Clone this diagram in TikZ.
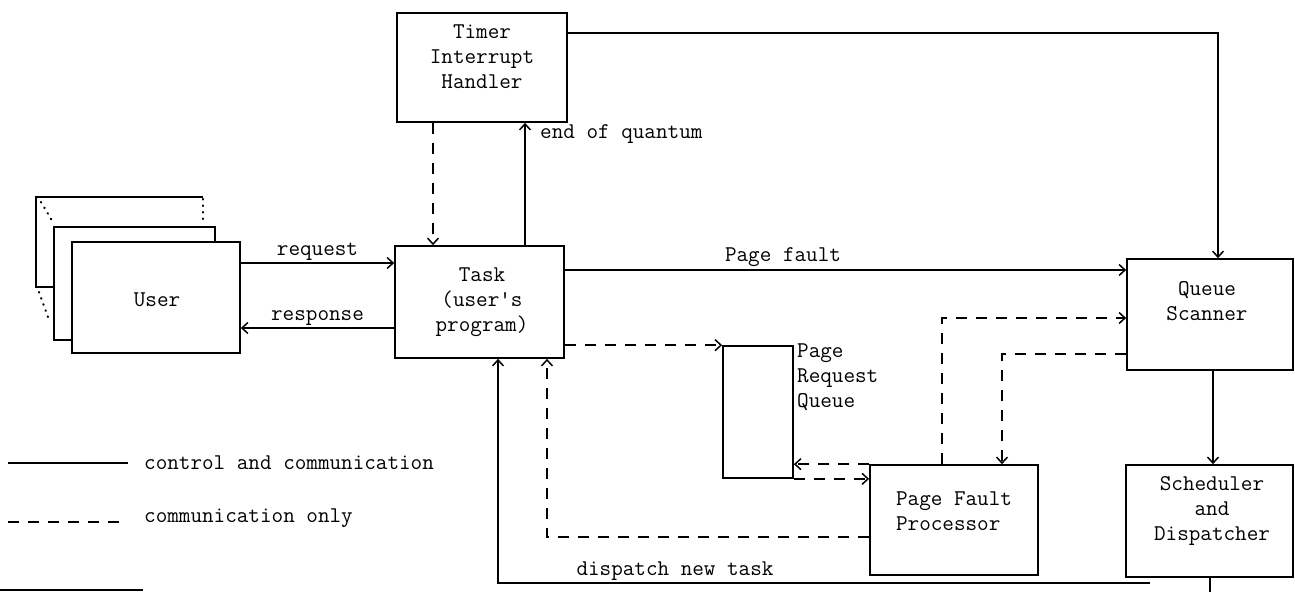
\documentclass[tikz,border=0pt]{standalone}
\usepackage{fontspec}
\usetikzlibrary{arrows.meta,calc}
\begin{document}
\begin{tikzpicture}[x=1pt,y=-1pt,
  every node/.style={font=\ttfamily\fontsize{22.5}{25}\selectfont},
  box/.style={draw,line width=1.7pt,minimum width=#1,inner sep=0pt},
  ln/.style={line width=1.7pt},
  arr/.style={ln,-{Straight Barb[length=6pt,width=11pt,line width=1.5pt]}},
  dln/.style={ln,dash pattern=on 11pt off 9pt},
  darr/.style={dln,-{Straight Barb[length=6pt,width=11pt,line width=1.5pt]}},
  dots/.style={line width=2.2pt,line cap=round,dash pattern=on 0.5pt off 6pt},
  txt/.style={align=center,inner sep=0pt}]
\useasboundingbox (0,0) rectangle (1295,592);
% user stack
\draw[ln] (54,287) -- (36,287) -- (36,197) -- (203,197);
\draw[dots] (203,199) -- (203,224);
\draw[ln] (72,340) -- (54,340) -- (54,227) -- (215,227) -- (215,242);
\draw[dots] (41,202) -- (54,224);
\draw[dots] (39,292) -- (49,320);
\node[box=168pt,minimum height=111pt] (user) at (156,297.5) {};
\node[txt] (usert) at (157,300) {User};
% boxes
\node[box=170pt,minimum height=109pt] (timer) at (482,67.5) {};
\node[txt] (timert) at (482,57) {Timer\\Interrupt\\Handler};
\node[box=169pt,minimum height=112pt] (task) at (479.5,302) {};
\node[txt] (taskt) at (482,302) {Task\\(user's\\program)};
\node[box=166pt,minimum height=111pt] (qs) at (1210,314.5) {};
\node[txt] (qst) at (1207,301) {Queue\\Scanner};
\node[box=167pt,minimum height=112pt] (sched) at (1209.5,521) {};
\node[txt] (schedt) at (1212,511) {Scheduler\\and\\Dispatcher};
\node[box=168pt,minimum height=110pt] (pfp) at (954,520) {};
\node[txt,align=left] (pfpt) at (954,511) {Page Fault\\Processor};
\node[box=70pt,minimum height=132pt] (prq) at (758,412) {};
\node[txt,align=left,anchor=base west] (prqt) at (797,407) {Page\\Request\\Queue};
% connectors
\draw[arr] (user.east |- 0,263) -- (task.west |- 0,263)
  node[midway,above=2pt,inner sep=0pt] (reql) {request};
\draw[arr] (task.west |- 0,328) -- (user.east |- 0,328)
  node[midway,above=2pt,inner sep=0pt] (resl) {response};
\draw[darr] (timer.south -| 433,0) -- (task.north -| 433,0);
\draw[arr] (task.north -| 525,0) -- (timer.south -| 525,0);
\node[anchor=west,inner sep=0pt] (eoq) at (540,134) {end of quantum};
\draw[arr] (timer.east |- 0,33) -| (qs.north -| 1218,0);
\draw[arr] (task.east |- 0,270) -- (qs.west |- 0,270);
\node[inner sep=0pt] (pfl) at (783,257) {Page fault};
\draw[darr] (task.east |- prq.north west) -- (prq.north west);
\draw[darr] (pfp.north west) -- (prq.east |- pfp.north west);
\draw[darr] (prq.south east) -- (pfp.west |- prq.south east);
\draw[darr] (pfp.north -| 942,0) |- (qs.west |- 0,318);
\draw[darr] (qs.west |- 0,354) -| (pfp.north -| 1002,0);
\draw[arr] (qs.south -| 1213,0) -- (sched.north -| 1213,0);
\draw[darr] (pfp.west |- 0,537) -| (task.south -| 547,0);
\coordinate (bend) at (1210,592);
\draw[ln] (sched.south -| bend) -- (bend);
\coordinate (dstart) at (1150,583);
\draw[arr] (dstart) -| (task.south -| 498,0);
\node[inner sep=0pt] (dnl) at (675,571) {dispatch new task};
% legend
\coordinate (l1a) at (8,463); \coordinate (l1b) at (128,463);
\draw[ln] (l1a) -- (l1b);
\node[anchor=west,inner sep=0pt] (l1t) at (144,463) {control and communication};
\coordinate (l2a) at (8,522); \coordinate (l2b) at (128,522);
\draw[dln] (l2a) -- (l2b);
\node[anchor=west,inner sep=0pt] (l2t) at (144,518) {communication only};
\coordinate (fa) at (0,590); \coordinate (fb) at (143,590);
\draw[ln] (fa) -- (fb);
\end{tikzpicture}
\end{document}
